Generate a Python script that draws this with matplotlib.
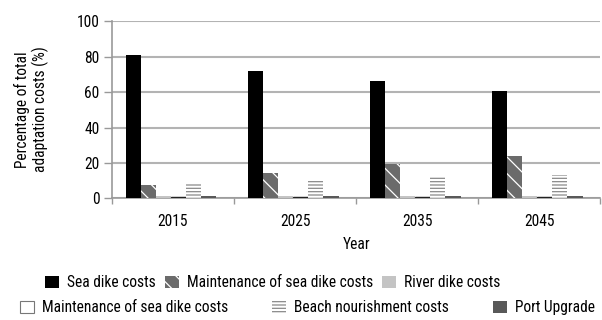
import matplotlib.pyplot as plt
import numpy as np
from matplotlib.patches import Patch

plt.rcParams['font.family'] = ['Roboto Condensed', 'Liberation Sans', 'DejaVu Sans']
plt.rcParams['hatch.linewidth'] = 0.9

# adaptation cost shares per year (%)
years = ['2015', '2025', '2035', '2045']
sea_dike = [81.0, 72.1, 66.3, 60.6]
maint_sea_dike = [7.5, 14.3, 19.4, 24.0]
river_dike = [1.2, 1.2, 1.2, 1.2]
maint_sea_dike_2 = [0.6, 0.6, 0.6, 0.6]
beach = [8.8, 9.7, 12.0, 13.2]
port = [1.2, 1.2, 1.2, 1.2]

series = [
    ('Sea dike costs', sea_dike, dict(facecolor='black', edgecolor='black', linewidth=0)),
    ('Maintenance of sea dike costs', maint_sea_dike, dict(facecolor='#6b6b6b', edgecolor='white', hatch='\\\\', linewidth=0)),
    ('River dike costs', river_dike, dict(facecolor='#c4c4c4', edgecolor='#c4c4c4', linewidth=0)),
    ('Maintenance of sea dike costs', maint_sea_dike_2, dict(facecolor='white', edgecolor='#222222', linewidth=1.0)),
    ('Beach nourishment costs', beach, dict(facecolor='white', edgecolor='#8a8a8a', hatch='-----', linewidth=0)),
    ('Port Upgrade', port, dict(facecolor='#595959', edgecolor='#595959', linewidth=0)),
]

fs = 11.2
fig = plt.figure(figsize=(6.02, 3.2), dpi=100)
ax = fig.add_axes([0.186, 0.380, 0.811, 0.553])

x = np.arange(len(years))
w = 0.124
for i, (name, vals, style) in enumerate(series):
    ax.bar(x + (i - 2.5) * w - 0.016, vals, w, zorder=3, **style)

ax.set_xlim(-0.5, len(years) - 0.5)
ax.set_ylim(0, 100)
ax.set_yticks(range(0, 101, 20))
ax.grid(axis='y', color='#b3b3b3', linewidth=1.5, zorder=0)

ax.set_xticks(x)
ax.set_xticklabels(years)
ax.set_xticks(np.arange(-0.5, len(years)), minor=True)
ax.tick_params(axis='x', which='major', length=0, pad=11, labelsize=fs)
ax.tick_params(axis='x', which='minor', length=4, color='#999999', width=1)
ax.tick_params(axis='y', length=6, color='#999999', width=1, labelsize=fs, pad=3)

for side in ['top', 'right']:
    ax.spines[side].set_visible(False)
for side in ['left', 'bottom']:
    ax.spines[side].set_color('#999999')
    ax.spines[side].set_linewidth(1.2)

ax.set_xlabel('Year', fontsize=fs, labelpad=6)
fig.text(0.052, 0.658, 'Percentage of total\nadaptation costs (%)', rotation=90,
         ha='center', va='center', fontsize=fs, linespacing=1.15)

handles = [Patch(label=name, **style) for name, vals, style in series]
handles[3].set_edgecolor('#777777')
handles[3].set_linewidth(0.8)

leg_kw = dict(frameon=False, fontsize=fs, handlelength=0.9, handleheight=0.9,
              handletextpad=0.5, loc='center')
leg1 = fig.legend(handles=handles[:3], ncol=3, columnspacing=0.6,
                  bbox_to_anchor=(0.453, 0.116), **leg_kw)
leg2 = fig.legend(handles=handles[3:], ncol=3, columnspacing=2.85,
                  bbox_to_anchor=(0.511, 0.038), **leg_kw)

fig.savefig('out.png', dpi=100)
